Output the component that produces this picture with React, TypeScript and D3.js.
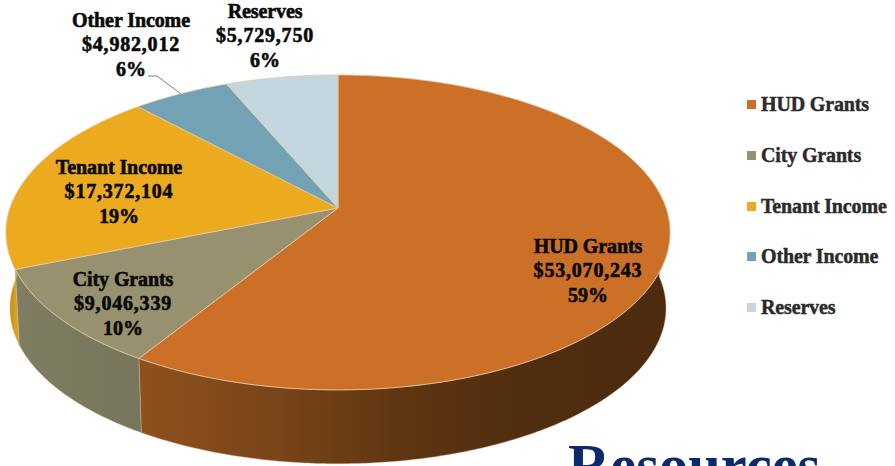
import React from "react";
import * as d3 from "d3";

// Funding sources, in the clockwise order they are drawn from twelve o'clock.
const categories = ["HUD Grants", "City Grants", "Tenant Income", "Other Income", "Reserves"];
const amounts = [53070243, 9046339, 17372104, 4982012, 5729750];
const percentLabels = ["59%", "10%", "19%", "6%", "6%"];
const topColors = ["#cc7027", "#98916f", "#ecaa1f", "#72a2b4", "#c4d6de"];
const wallStops = [
  ["#8f511c", "#7a451a", "#5f3611", "#4f2d0f", "#4c2b0e"],
  ["#7f7d62", "#77755b"],
  ["#c9951a", "#dba31c"],
  ["#5b8494", "#5b8494"],
  ["#9cadb4", "#9cadb4"],
];
const labelCenters = [588, 123, 119, 131, 265];
const labelBaselines = [253, 286, 174, 27, 18];
const legendBaselines = [111, 162, 213, 263, 314];

const W = 895;
const H = 466;
const apexX = 338;
const apexY = 208;
const radiusX = 328;
const radiusY = 153.7;
const tilt = 0.155;
const wallDepth = 76;
const wallTaper = 0.988;

// Perspective projection of a point on the pie's rim.
function rim(angle: number, scale = 1, drop = 0): [number, number] {
  const s = Math.sin(angle);
  const c = Math.cos(angle);
  const w = 1 + tilt * c;
  return [apexX + (scale * radiusX * s) / w, apexY + drop - (scale * radiusY * c) / w];
}

const pie = d3.pie<number>().sort(null).startAngle(0).endAngle(2 * Math.PI);
const arcs = pie(amounts);
const line = d3.line();
const money = d3.format("$,");

function sample(a0: number, a1: number, scale = 1, drop = 0): [number, number][] {
  const n = Math.max(2, Math.ceil((a1 - a0) / 0.01));
  return d3.range(n + 1).map((i) => rim(a0 + ((a1 - a0) * i) / n, scale, drop));
}

function topPath(a0: number, a1: number) {
  return line([[apexX, apexY], ...sample(a0, a1)]) + "Z";
}

// Outer wall: only the part of the rim that faces the viewer.
function wallPath(a0: number, a1: number) {
  const upper = sample(a0, a1);
  const lower = sample(a0, a1, wallTaper, wallDepth).reverse();
  return line([...upper, ...lower]) + "Z";
}

const frontStart = Math.PI / 2 - 0.05;
const frontEnd = (3 * Math.PI) / 2 + 0.05;

const serif = "'Liberation Serif', serif";

export default function App() {
  return (
    <svg
      width={W}
      height={H}
      viewBox={`0 0 ${W} ${H}`}
      style={{ position: "absolute", left: 0, top: 0, background: "#fff" }}
      fontFamily={serif}
      fontWeight="bold"
    >
      <defs>
        {arcs.map((a, i) => {
          const a0 = Math.max(a.startAngle, frontStart);
          const a1 = Math.min(a.endAngle, frontEnd);
          if (a1 <= a0) return null;
          const xa = rim(a0)[0];
          const xb = rim(a1)[0];
          const stops = wallStops[i];
          return (
            <linearGradient
              key={i}
              id={`wall-${i}`}
              gradientUnits="userSpaceOnUse"
              x1={Math.min(xa, xb)}
              x2={Math.max(xa, xb)}
              y1={0}
              y2={0}
            >
              {stops.map((c, k) => (
                <stop key={k} offset={k / (stops.length - 1)} stopColor={c} />
              ))}
            </linearGradient>
          );
        })}
      </defs>

      {/* Walls go first so the top face overlaps their upper edge */}
      {arcs.map((a, i) => {
        const a0 = Math.max(a.startAngle, frontStart);
        const a1 = Math.min(a.endAngle, frontEnd);
        if (a1 <= a0) return null;
        return (
          <path
            key={i}
            d={wallPath(a0, a1)}
            fill={`url(#wall-${i})`}
            stroke="#d8b48c"
            strokeOpacity={0.55}
            strokeWidth={0.8}
          />
        );
      })}

      {arcs.map((a, i) => (
        <path
          key={i}
          d={topPath(a.startAngle, a.endAngle)}
          fill={topColors[i]}
          stroke="#e6c9a2"
          strokeOpacity={0.8}
          strokeWidth={1}
          strokeLinejoin="round"
        />
      ))}

      {/* Leader line for the Other Income label */}
      <polyline
        points={[rim(arcs[3].startAngle + (arcs[3].endAngle - arcs[3].startAngle) * 0.5), [157, 76], [148, 76]]
          .map((p) => p.join(","))
          .join(" ")}
        fill="none"
        stroke="#7f7f7f"
        strokeWidth={1}
      />

      {categories.map((name, i) => (
        <text
          key={name}
          textAnchor="middle"
          fontSize={20}
          fill="#0a0a0a"
          stroke="#0a0a0a"
          strokeWidth={0.6}
        >
          <tspan x={labelCenters[i]} y={labelBaselines[i]} letterSpacing={-0.1}>{name}</tspan>
          <tspan x={labelCenters[i]} y={labelBaselines[i] + 24} letterSpacing={0.8}>{money(amounts[i])}</tspan>
          <tspan x={labelCenters[i]} y={labelBaselines[i] + 48.5}>{percentLabels[i]}</tspan>
        </text>
      ))}

      {categories.map((name, i) => (
        <g key={name}>
          <rect x={747} y={legendBaselines[i] - 11} width={9} height={9} fill={topColors[i]} />
          <text
            x={761}
            y={legendBaselines[i]}
            fontSize={20}
            letterSpacing={-0.15}
            fill="#2a2a2a"
            stroke="#2a2a2a"
            strokeWidth={0.45}
          >
            {name}
          </text>
        </g>
      ))}

      <text x={568} y={485} fontSize={58.5} fill="#0b2a6b">
        Resources
      </text>
    </svg>
  );
}
